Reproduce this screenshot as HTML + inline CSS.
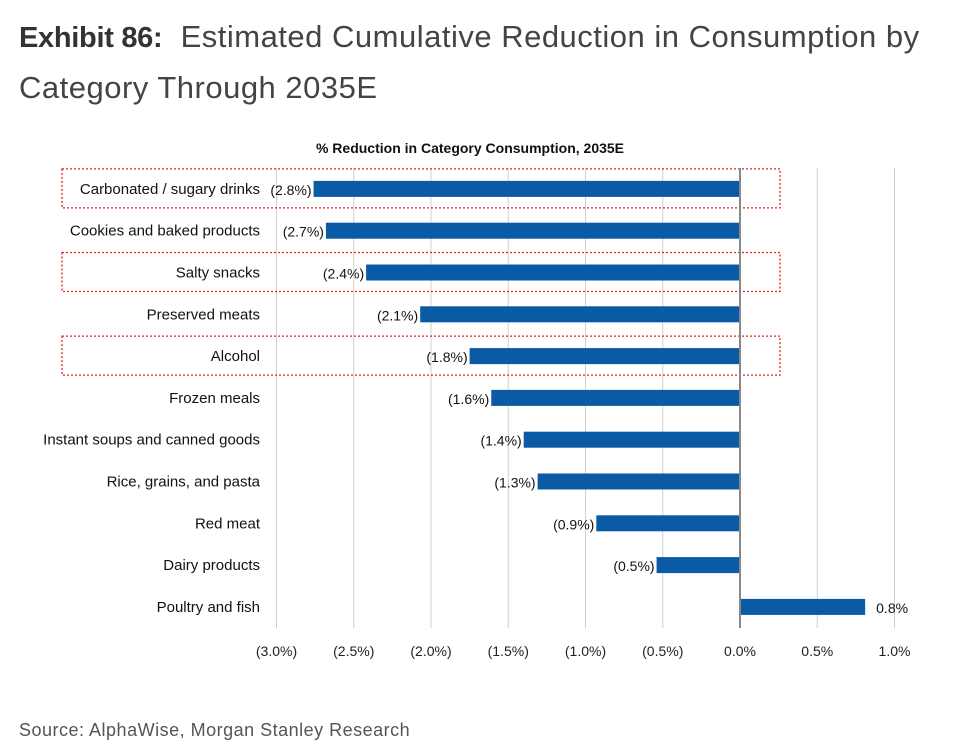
<!DOCTYPE html>
<html><head><meta charset="utf-8"><style>
body{margin:0;width:956px;height:756px;background:#fff;font-family:"Liberation Sans",sans-serif;overflow:hidden;position:relative}
.t{position:absolute;left:19px;top:12px;font-size:31px;line-height:50px;color:#444;width:930px;letter-spacing:0.5px}
.t b{color:#333;font-size:29px;letter-spacing:-0.3px}
.src{position:absolute;left:19px;top:720px;font-size:18px;color:#555;letter-spacing:0.5px}
svg{position:absolute;left:0;top:0}
</style></head><body>
<div class="t"><b>Exhibit 86:</b>&nbsp; Estimated Cumulative Reduction in Consumption by Category Through 2035E</div>
<svg id="c" width="956" height="756"></svg>
<div class="src">Source: AlphaWise, Morgan Stanley Research</div>
<script>
const categories=["Carbonated / sugary drinks","Cookies and baked products","Salty snacks","Preserved meats","Alcohol","Frozen meals","Instant soups and canned goods","Rice, grains, and pasta","Red meat","Dairy products","Poultry and fish"];
const values=[-2.76,-2.68,-2.42,-2.07,-1.75,-1.61,-1.40,-1.31,-0.93,-0.54,0.81];
const valueLabels=["(2.8%)","(2.7%)","(2.4%)","(2.1%)","(1.8%)","(1.6%)","(1.4%)","(1.3%)","(0.9%)","(0.5%)","0.8%"];
const ticks=[-3,-2.5,-2,-1.5,-1,-0.5,0,0.5,1];
const tickLabels=["(3.0%)","(2.5%)","(2.0%)","(1.5%)","(1.0%)","(0.5%)","0.0%","0.5%","1.0%"];
const highlighted=[0,2,4];
const svg=document.getElementById('c');const NS='http://www.w3.org/2000/svg';
const x=v=>740+v*154.5;
const top0=168,rowH=41.8;
const y=i=>top0+rowH*(i+0.5);
function mk(t,a,p){const e=document.createElementNS(NS,t);for(const k in a)e.setAttribute(k,a[k]);(p||svg).appendChild(e);return e;}
const title=mk('text',{x:470,y:153,'text-anchor':'middle','font-size':14,'font-weight':'bold',fill:'#111'});
title.textContent='% Reduction in Category Consumption, 2035E';


ticks.forEach((t,i)=>{
 if(t!==0){const g=mk('line',{x1:x(t),x2:x(t),y1:top0,y2:628,stroke:'#d0d0d0','stroke-width':1});
 
 }
 const l=mk('text',{x:x(t),y:656,'text-anchor':'middle','font-size':14,fill:'#222'});l.textContent=tickLabels[i];
 
 
});
highlighted.forEach(i=>{
 const r=mk('rect',{x:62,y:y(i)-20,width:718,height:39,fill:'none',stroke:'#d22','stroke-width':1.3,'stroke-dasharray':'2,2'});
 
 
});
values.forEach((v,i)=>{
 const b=mk('rect',{x:Math.min(x(0),x(v)),y:y(i)-8,width:Math.abs(x(v)-x(0)),height:16,fill:'#0b5aa5'});
 
 
 const c=mk('text',{x:260,y:y(i)+5,'text-anchor':'end','font-size':15,fill:'#111'});c.textContent=categories[i];
 
 
 const vl=mk('text',{x:v<0?x(v)-2:x(v)+11,y:y(i)+6,'text-anchor':v<0?'end':'start','font-size':14,fill:'#111'});vl.textContent=valueLabels[i];
 
 
});
const z=mk('line',{x1:x(0),x2:x(0),y1:top0,y2:628,stroke:'#888','stroke-width':2});


</script>
</body></html>
